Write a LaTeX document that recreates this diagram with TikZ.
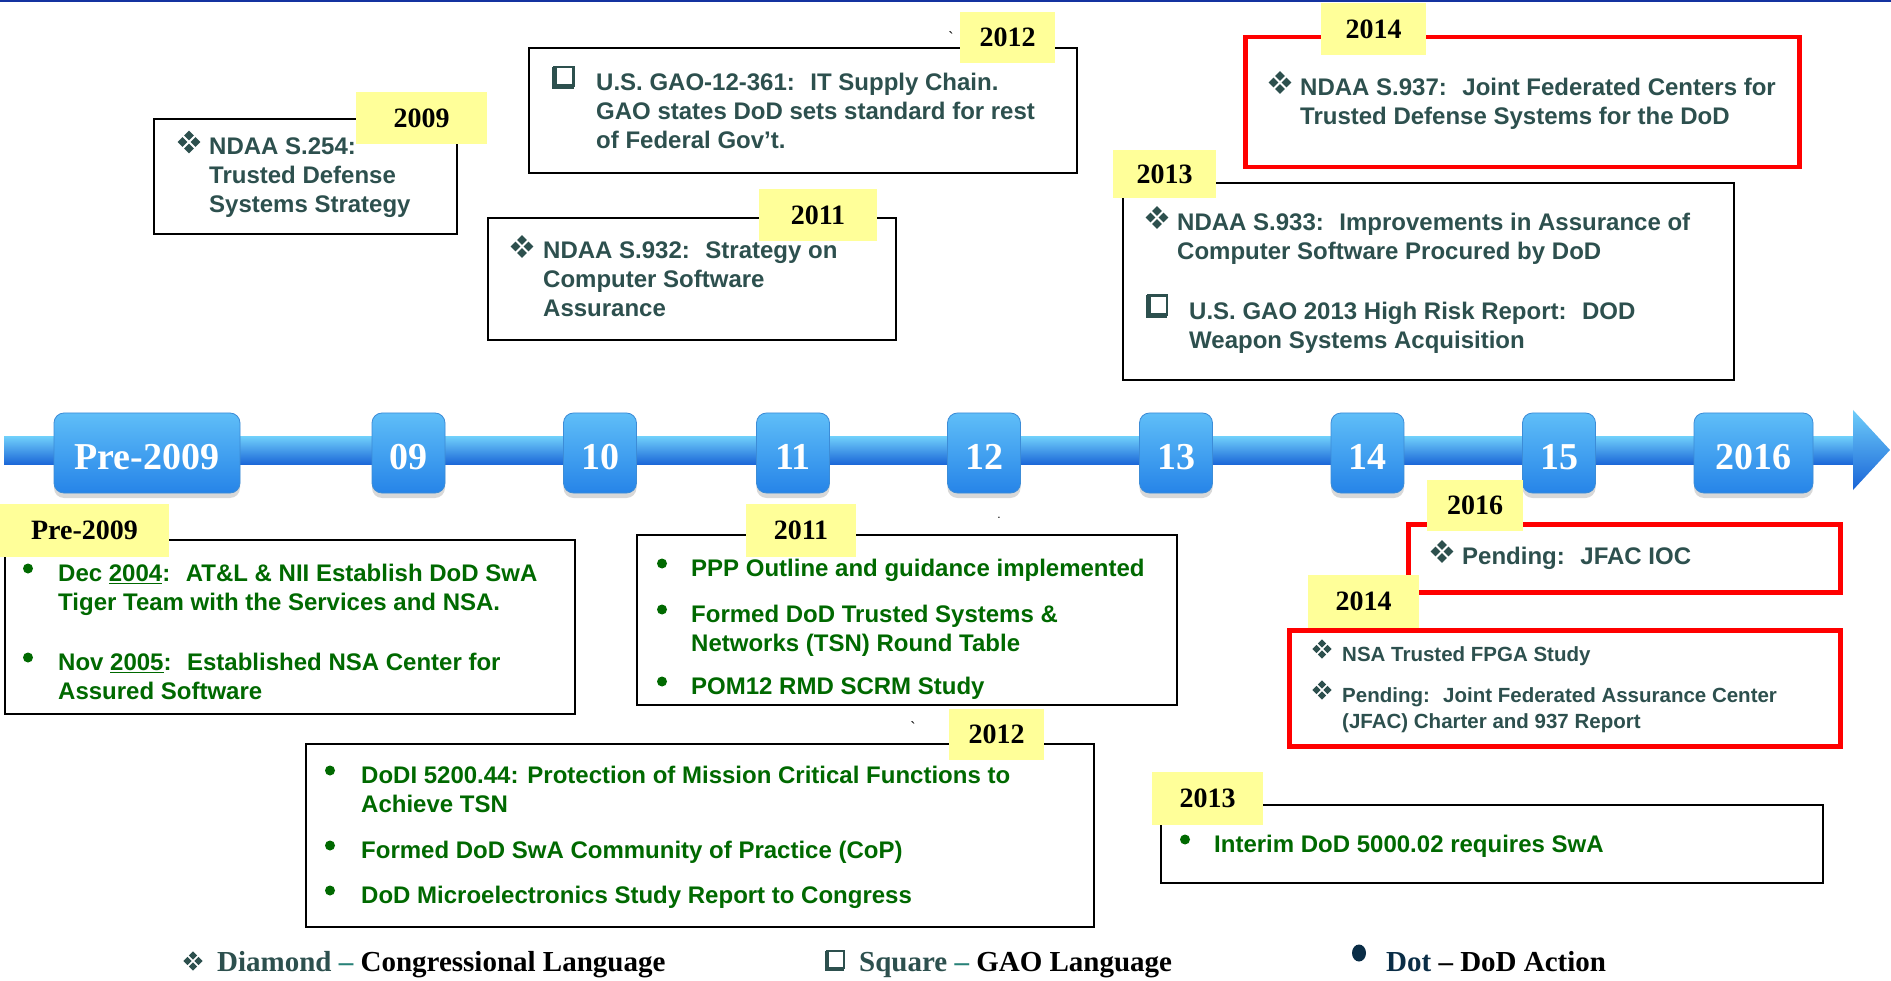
\documentclass[tikz,border=0pt]{standalone}
\usepackage{fontspec}
\setmainfont{Liberation Sans}
\newfontfamily\seriffont{Liberation Serif}
\usetikzlibrary{shadows,shapes.geometric}
\definecolor{slate}{RGB}{45,80,78}
\definecolor{dgreen}{RGB}{0,105,0}
\definecolor{lblyellow}{RGB}{255,255,153}
\definecolor{topblue}{RGB}{20,50,160}
\definecolor{legteal}{RGB}{40,130,120}
\definecolor{navy}{RGB}{10,45,70}
\definecolor{barlight}{RGB}{110,205,250}
\definecolor{barmid}{RGB}{45,145,240}
\definecolor{bardark}{RGB}{25,100,215}
\definecolor{boxlight}{RGB}{95,190,248}
\definecolor{boxdark}{RGB}{38,132,232}
\definecolor{boxedge}{RGB}{60,140,215}
\tikzset{
  frameb/.style={draw=black, line width=1.8, fill=white, anchor=north west, inner sep=0},
  framer/.style={draw=red, line width=4.5, fill=white, anchor=north west, inner sep=0},
  yrlab/.style={fill=lblyellow, inner sep=0, text=black, font=\seriffont\bfseries\fontsize{28}{30}\selectfont},
  body/.style={anchor=north west, inner sep=0, align=left, font=\bfseries\fontsize{24}{29}\selectfont},
  smallbody/.style={anchor=north west, inner sep=0, align=left, font=\bfseries\fontsize{20.5}{26}\selectfont},
  gdot/.style={circle, fill=dgreen, minimum size=10, inner sep=0},
  tlbox/.style={rounded corners=10, minimum height=80, top color=boxlight, bottom color=boxdark,
     draw=boxedge, line width=0.8, text=white, font=\seriffont\bfseries\fontsize{38}{40}\selectfont,
     drop shadow={shadow xshift=0pt, shadow yshift=-5pt, opacity=0.3, fill=gray}},
  legend/.style={anchor=base west, inner sep=0, font=\seriffont\bfseries\fontsize{29}{31}\selectfont},
  pics/fourdiam/.style={code={
    \foreach \dx/\dy in {0/-6.5,0/6.5,-6.5/0,6.5/0}{
      \fill[slate] (\dx,\dy) +(0,-4.9) -- +(4.9,0) -- +(0,4.9) -- +(-4.9,0) -- cycle;}
  }},
  pics/gaosq/.style={code={
    \draw[slate, line width=2.2] (-9,-10) rectangle (10,9);
    \fill[slate] (-11.5,-10) rectangle (-6.5,12.5);
    \fill[slate] (-11.5,7.5) rectangle (10,12.5);
  }}
}
\newcommand{\tl}[1]{\raisebox{-4pt}[\height][0pt]{#1}}
\begin{document}
\begin{tikzpicture}[x=1pt,y=-1pt]
\useasboundingbox (0,0) rectangle (1891,981);
\fill[white] (0,0) rectangle (1891,981);
\fill[topblue] (0,0) rectangle (1891,2.5);

% ---------- timeline bar ----------
\shade[top color=barlight, middle color=barmid, bottom color=bardark] (4,437) rectangle (1856,465);
\shade[top color=barlight, middle color=barmid, bottom color=bardark] (1853,410) -- (1890,450) -- (1853,490) -- cycle;
\node[tlbox, minimum width=186] (y0) at (147,453) {\tl{Pre-2009}};
\node[tlbox, minimum width=73] (y09) at (408.5,453) {\tl{09}};
\node[tlbox, minimum width=73] (y10) at (600,453) {\tl{10}};
\node[tlbox, minimum width=73] (y11) at (793,453) {\tl{11}};
\node[tlbox, minimum width=73] (y12) at (984,453) {\tl{12}};
\node[tlbox, minimum width=73] (y13) at (1176,453) {\tl{13}};
\node[tlbox, minimum width=73] (y14) at (1367.5,453) {\tl{14}};
\node[tlbox, minimum width=73] (y15) at (1559,453) {\tl{15}};
\node[tlbox, minimum width=119] (y16) at (1753.5,453) {\tl{2016}};

% ---------- frames ----------
\node[frameb, minimum width=303, minimum height=115] (fA) at (153,118) {};
\node[frameb, minimum width=548, minimum height=125] (fB) at (528,47) {};
\node[frameb, minimum width=408, minimum height=122] (fC) at (487,217) {};
\node[framer, minimum width=554, minimum height=130] (fD) at (1243,35) {};
\node[frameb, minimum width=611, minimum height=197] (fE) at (1122,182) {};
\node[frameb, minimum width=570, minimum height=174] (fF) at (4,539) {};
\node[frameb, minimum width=540, minimum height=170] (fG) at (636,534) {};
\node[frameb, minimum width=788, minimum height=183] (fH) at (305,743) {};
\node[framer, minimum width=432, minimum height=68] (fI) at (1406,522) {};
\node[framer, minimum width=551, minimum height=116] (fJ) at (1287,628) {};
\node[frameb, minimum width=662, minimum height=78] (fK) at (1160,804) {};

% ---------- year labels ----------
\node[yrlab, minimum width=131, minimum height=52] (lA) at (421.5,118) {2009};
\node[yrlab, minimum width=95, minimum height=51] (lB) at (1007.5,37.5) {2012};
\node[yrlab, minimum width=118, minimum height=52] (lC) at (818,215) {2011};
\node[yrlab, minimum width=105, minimum height=52] (lD) at (1373.5,29) {2014};
\node[yrlab, minimum width=103, minimum height=48] (lE) at (1164.5,174) {2013};
\node[yrlab, minimum width=169, minimum height=53] (lF) at (84.5,530.5) {Pre-2009};
\node[yrlab, minimum width=110, minimum height=53] (lG) at (801,530.5) {2011};
\node[yrlab, minimum width=95, minimum height=51] (lH) at (996.5,734.5) {2012};
\node[yrlab, minimum width=96, minimum height=51] (lI) at (1475,505.5) {2016};
\node[yrlab, minimum width=111, minimum height=53] (lJ) at (1363.5,601.5) {2014};
\node[yrlab, minimum width=111, minimum height=53] (lK) at (1207.5,798.5) {2013};

% stray marks
\node[inner sep=0, font=\fontsize{16}{16}\selectfont] (m1) at (951,38) {\textasciigrave};
\node[inner sep=0, font=\fontsize{16}{16}\selectfont] (m2) at (913,728) {\textasciigrave};
\node[inner sep=0, font=\fontsize{12}{12}\selectfont] (m3) at (999,518) {.};

% ---------- top texts ----------
\pic at (189,142) {fourdiam};
\node[body, text=slate] (tA) at (209,137.5) {NDAA S.254:\\Trusted Defense\\Systems Strategy};

\pic at (563.5,77) {gaosq};
\node[body, text=slate] (tB) at (596,72.5) {U.S. GAO-12-361:~ IT Supply Chain.\\GAO states DoD sets standard for rest\\of Federal Gov’t.};

\pic at (522,246.5) {fourdiam};
\node[body, text=slate] (tC) at (543,241.5) {NDAA S.932:~ Strategy on\\Computer Software\\Assurance};

\pic at (1280,82.5) {fourdiam};
\node[body, text=slate] (tD) at (1300,77.5) {NDAA S.937:~ Joint Federated Centers for\\Trusted Defense Systems for the DoD};

\pic at (1157,217.5) {fourdiam};
\node[body, text=slate] (tE1) at (1177,212.5) {NDAA S.933:~ Improvements in Assurance of\\Computer Software Procured by DoD};
\pic at (1157,305.5) {gaosq};
\node[body, text=slate] (tE2) at (1189,301.5) {U.S. GAO 2013 High Risk Report:~ DOD\\Weapon Systems Acquisition};

% ---------- bottom texts ----------
\node[gdot] (dF1) at (28,568.5) {};
\node[body, text=dgreen] (tF1) at (58,563.5) {Dec \underline{2004}:~ AT\&L \& NII Establish DoD SwA\\Tiger Team with the Services and NSA.};
\node[gdot] (dF2) at (28,657.5) {};
\node[body, text=dgreen] (tF2) at (58,652.5) {Nov \underline{2005}:~ Established NSA Center for\\Assured Software};

\node[gdot] (dG1) at (662,563.5) {};
\node[body, text=dgreen] (tG1) at (691,558.5) {PPP Outline and guidance implemented};
\node[gdot] (dG2) at (662,609.5) {};
\node[body, text=dgreen] (tG2) at (691,604.5) {Formed DoD Trusted Systems \&\\Networks (TSN) Round Table};
\node[gdot] (dG3) at (662,681.5) {};
\node[body, text=dgreen] (tG3) at (691,676.5) {POM12 RMD SCRM Study};

\node[gdot] (dH1) at (330,770.5) {};
\node[body, text=dgreen] (tH1) at (361,765.5) {DoDI 5200.44: Protection of Mission Critical Functions to\\Achieve TSN};
\node[gdot] (dH2) at (330,845.5) {};
\node[body, text=dgreen] (tH2) at (361,840.5) {Formed DoD SwA Community of Practice (CoP)};
\node[gdot] (dH3) at (330,890.5) {};
\node[body, text=dgreen] (tH3) at (361,885.5) {DoD Microelectronics Study Report to Congress};

\pic at (1442,551.5) {fourdiam};
\node[body, text=slate] (tI) at (1462,546.5) {Pending:~ JFAC IOC};

\pic[scale=0.85] at (1322,649) {fourdiam};
\node[smallbody, text=slate] (tJ1) at (1342,646) {NSA Trusted FPGA Study};
\pic[scale=0.85] at (1322,690) {fourdiam};
\node[smallbody, text=slate] (tJ2) at (1342,687) {Pending:~ Joint Federated Assurance Center\\(JFAC) Charter and 937 Report};

\node[gdot] (dK) at (1185,839.5) {};
\node[body, text=dgreen] (tK) at (1214,834.5) {Interim DoD 5000.02 requires SwA};

% ---------- legend ----------
\pic[scale=0.85] at (193,961) {fourdiam};
\node[legend] (legD) at (217,971) {\textcolor{slate}{Diamond} \textcolor{legteal}{–} Congressional Language};
\pic[scale=0.9] at (835,960) {gaosq};
\node[legend] (legS) at (859,971) {\textcolor{slate}{Square} \textcolor{legteal}{–} GAO Language};
\node[ellipse, fill=navy, minimum width=14, minimum height=17, inner sep=0] (legdot) at (1359,953) {};
\node[legend] (legT) at (1386,971) {\textcolor{navy}{Dot} – DoD Action};
\end{tikzpicture}
\end{document}
